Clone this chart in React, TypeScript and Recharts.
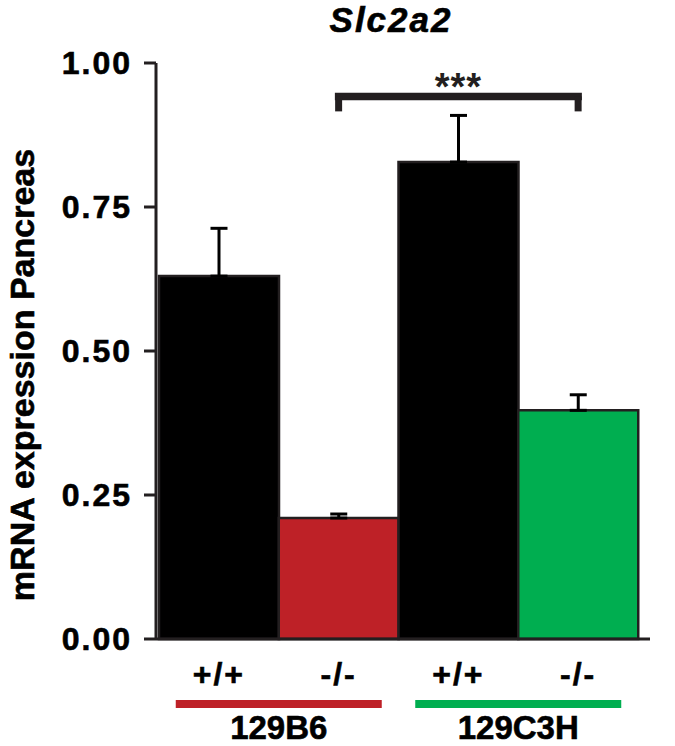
import { BarChart, Bar, XAxis, YAxis, Cell, ErrorBar, ReferenceLine, Label } from 'recharts'

const FONT = '"Liberation Sans", Arial, Helvetica, sans-serif'
const INK = '#231f20'

// one bar per strain/genotype
const groups = ['129B6 +/+', '129B6 -/-', '129C3H +/+', '129C3H -/-']
const genotypes = ['+/+', '-/-', '+/+', '-/-']
const strains = ['129B6', '129B6', '129C3H', '129C3H']
const means = [0.63, 0.21, 0.828, 0.397]
const errUp = [0.083, 0.007, 0.081, 0.027]
const barColors = ['#000000', '#be2127', '#000000', '#00ae50']
const strainColors: Record<string, string> = { '129B6': '#be2127', '129C3H': '#00ae50' }
const yTicks = [0, 0.25, 0.5, 0.75, 1]

// significance bracket between the two knockouts
const bracketFrom = groups[1]
const bracketTo = groups[3]
const bracketY = 0.942
const bracketFoot = 0.916
const stars = '***'

const data = groups.map((g, i) => ({
  group: g,
  strain: strains[i],
  value: means[i],
  err: [0, errUp[i]],
}))

const heavy = { stroke: '#000', strokeWidth: 0.6 }

function GenotypeTick({ x, y, payload }: any) {
  const label = genotypes[groups.indexOf(payload.value)]
  return (
    <text
      x={x}
      y={y + 46}
      textAnchor="middle"
      fontFamily={FONT}
      fontWeight="bold"
      fontSize={32}
      letterSpacing={2}
      fill="#000"
      {...heavy}
    >
      {label}
    </text>
  )
}

function StrainTick({ x, y, payload }: any) {
  return (
    <g>
      <rect x={x - 103} y={y + 4} width={206} height={8} fill={strainColors[payload.value]} />
      <text
        x={x}
        y={y + 43}
        textAnchor="middle"
        fontFamily={FONT}
        fontWeight="bold"
        fontSize={33}
        fill="#000"
        {...heavy}
      >
        {payload.value}
      </text>
    </g>
  )
}

export default function App() {
  return (
    <div style={{ position: 'absolute', left: 0, top: 0, width: 675, height: 746, background: '#fff' }}>
      <div
        style={{
          position: 'absolute',
          left: 271,
          top: 0,
          width: 240,
          textAlign: 'center',
          fontFamily: FONT,
          fontWeight: 'bold',
          fontStyle: 'italic',
          fontSize: 35,
          lineHeight: '40px',
          letterSpacing: 2,
          WebkitTextStroke: '0.6px #000',
        }}
      >
        Slc2a2
      </div>
      <BarChart
        width={675}
        height={746}
        data={data}
        margin={{ top: 63, right: 25, bottom: 0, left: 0 }}
        barCategoryGap={0}
        barGap={0}
      >
        <XAxis
          dataKey="group"
          padding={{ left: 3, right: 12 }}
          axisLine={{ stroke: INK, strokeWidth: 3 }}
          tickLine={false}
          tickSize={0}
          tickMargin={0}
          interval={0}
          height={57}
          tick={<GenotypeTick />}
        />
        <XAxis
          xAxisId="strain"
          dataKey="strain"
          allowDuplicatedCategory={false}
          padding={{ left: 3, right: 12 }}
          axisLine={false}
          tickLine={false}
          tickSize={0}
          tickMargin={0}
          interval={0}
          height={50}
          tick={<StrainTick />}
        />
        <YAxis
          domain={[0, 1]}
          ticks={yTicks}
          tickFormatter={(v: number) => v.toFixed(2)}
          width={156}
          axisLine={{ stroke: INK, strokeWidth: 3 }}
          tickLine={{ stroke: INK, strokeWidth: 3 }}
          tickSize={12}
          tickMargin={12}
          tick={{ fill: '#000', fontSize: 32, fontWeight: 700, fontFamily: FONT, letterSpacing: 2, ...heavy }}
        >
          <Label
            content={(props: any) => {
              const vb = props.viewBox
              return (
                <text
                  transform={`translate(22, ${vb.y + vb.height / 2 + 24}) rotate(-90)`}
                  textAnchor="middle"
                  dominantBaseline="central"
                  fontFamily={FONT}
                  fontWeight="bold"
                  fontSize={34}
                  fill="#000"
                  {...heavy}
                >
                  mRNA expression Pancreas
                </text>
              )
            }}
          />
        </YAxis>
        <Bar dataKey="value" stroke={INK} strokeWidth={2.5} isAnimationActive={false}>
          {data.map((d, i) => (
            <Cell key={d.group} fill={barColors[i]} />
          ))}
          <ErrorBar dataKey="err" direction="y" width={8.5} stroke="#000" strokeWidth={3} isAnimationActive={false} />
        </Bar>
        <ReferenceLine
          segment={[
            { x: bracketFrom, y: bracketY },
            { x: bracketTo, y: bracketY },
          ]}
          stroke={INK}
          strokeWidth={7.5}
          strokeLinecap="square"
        >
          <Label
            content={(props: any) => {
              const vb = props.viewBox
              return (
                <text
                  x={vb.x + vb.width / 2}
                  y={vb.y + 4}
                  textAnchor="middle"
                  fontFamily={FONT}
                  fontWeight="bold"
                  fontSize={38}
                  letterSpacing={1}
                  fill={INK}
                >
                  {stars}
                </text>
              )
            }}
          />
        </ReferenceLine>
        <ReferenceLine
          segment={[
            { x: bracketFrom, y: bracketY },
            { x: bracketFrom, y: bracketFoot },
          ]}
          stroke={INK}
          strokeWidth={7}
        />
        <ReferenceLine
          segment={[
            { x: bracketTo, y: bracketY },
            { x: bracketTo, y: bracketFoot },
          ]}
          stroke={INK}
          strokeWidth={7}
        />
      </BarChart>
    </div>
  )
}
